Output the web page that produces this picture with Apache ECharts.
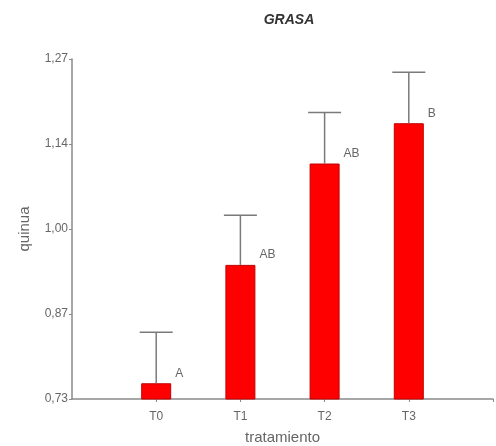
<!DOCTYPE html>
<html>
<head>
<meta charset="utf-8">
<script src="https://cdn.jsdelivr.net/npm/echarts@6/dist/echarts.min.js"></script>
<style>
  html, body { margin: 0; padding: 0; background: #fff; }
  #chart { width: 496px; height: 446px; }
</style>
</head>
<body>
<div id="chart"></div>
<script>
// Treatments and their mean fat values (quinua), with error-bar half widths
const categories = ['T0', 'T1', 'T2', 'T3'];
const means = [0.755, 0.943, 1.104, 1.168];
const errors = [0.081, 0.079, 0.081, 0.081];
const letters = ['A', 'AB', 'AB', 'B'];
const yTicks = [0.73, 0.865, 1.0, 1.135, 1.27];
const yTickLabels = ['0,73', '0,87', '1,00', '1,14', '1,27'];

const FONT = '"Liberation Sans", Arial, sans-serif';
const GRAY = '#666';
const AXIS = '#8a8a8a';

const chart = echarts.init(document.getElementById('chart'), null, { renderer: 'canvas' });

const barData = means.map((m, i) => [i + 1, m]);
const errData = means.map((m, i) => [i + 1, m, m + errors[i], i]);

chart.setOption({
  animation: false,
  backgroundColor: '#fff',
  title: {
    text: 'GRASA',
    left: 284,
    top: 8,
    textAlign: 'center',
    textStyle: { fontFamily: FONT, fontSize: 14, fontWeight: 'bold', fontStyle: 'italic', color: '#333' }
  },
  grid: { left: 72, right: 3, top: 59, bottom: 47, containLabel: false, outerBoundsMode: 'none' },
  xAxis: {
    type: 'value',
    min: 0,
    max: 5,
    name: 'tratamiento',
    nameLocation: 'middle',
    nameGap: 31,
    nameTextStyle: { fontFamily: FONT, fontSize: 15, color: GRAY },
    axisLine: { show: true, lineStyle: { color: AXIS, width: 1.5 } },
    axisTick: { show: true, length: 3, lineStyle: { color: AXIS }, customValues: [1, 2, 3, 4, 5] },
    axisLabel: {
      customValues: [1, 2, 3, 4],
      formatter: v => categories[Math.round(v) - 1] || '',
      margin: 12,
      fontFamily: FONT, fontSize: 12, color: GRAY
    },
    splitLine: { show: false }
  },
  yAxis: {
    type: 'value',
    min: yTicks[0],
    max: yTicks[yTicks.length - 1],
    name: 'quinua',
    nameLocation: 'middle',
    nameGap: 40,
    nameTextStyle: { fontFamily: FONT, fontSize: 15, color: GRAY },
    axisLine: { show: true, lineStyle: { color: AXIS, width: 1.5 } },
    axisTick: { show: true, length: 3, lineStyle: { color: AXIS }, customValues: yTicks },
    axisLabel: {
      customValues: yTicks,
      formatter: v => {
        const i = yTicks.findIndex(t => Math.abs(t - v) < 1e-6);
        return i >= 0 ? yTickLabels[i] : '';
      },
      margin: 4,
      fontFamily: FONT, fontSize: 12, color: GRAY
    },
    splitLine: { show: false }
  },
  series: [
    {
      type: 'bar',
      data: barData,
      barWidth: 30,
      clip: true,
      itemStyle: { color: '#ff0000', borderColor: '#c00000', borderWidth: 1 },
      z: 2
    },
    {
      type: 'custom',
      data: errData,
      clip: false,
      z: 3,
      renderItem: (params, api) => {
        const x = api.value(0);
        const base = api.coord([x, api.value(1)]);
        const top = api.coord([x, api.value(2)]);
        const half = 16.5;
        return {
          type: 'group',
          children: [
            { type: 'line', shape: { x1: base[0], y1: base[1], x2: top[0], y2: top[1] },
              style: { stroke: '#7a7a7a', lineWidth: 1.5 } },
            { type: 'line', shape: { x1: top[0] - half, y1: top[1], x2: top[0] + half, y2: top[1] },
              style: { stroke: '#7a7a7a', lineWidth: 1.5 } },
            { type: 'text', x: base[0] + 19, y: base[1] - 10,
              style: { text: letters[api.value(3)], fill: GRAY, font: '12px ' + FONT,
                       textAlign: 'left', textVerticalAlign: 'middle' } }
          ]
        };
      }
    }
  ]
});
</script>
</body>
</html>
